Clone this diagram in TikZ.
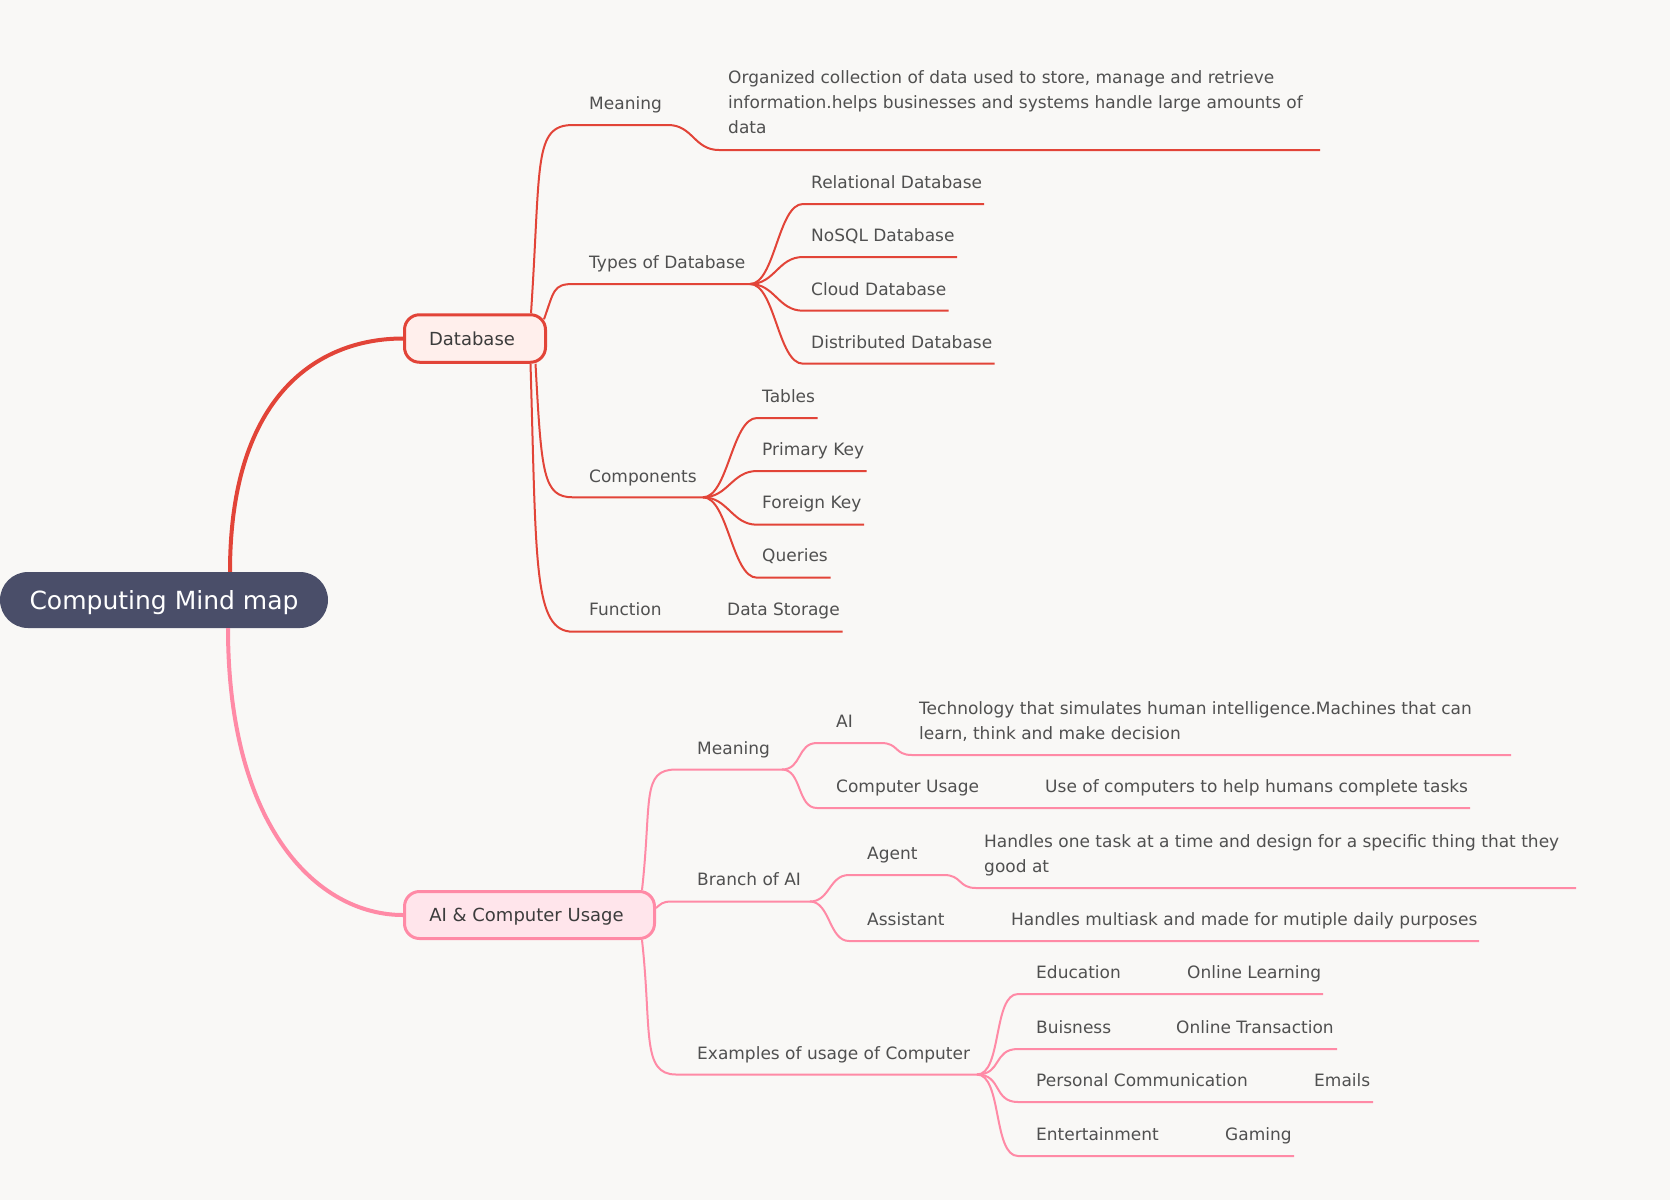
\documentclass[tikz,border=0pt]{standalone}
\usepackage{fontspec}
\setmainfont{DejaVu Sans}
\usepackage{xcolor}

\definecolor{bgc}{RGB}{249,248,246}
\definecolor{rootc}{RGB}{74,78,105}
\definecolor{dbred}{RGB}{226,68,56}
\definecolor{dbfill}{RGB}{255,239,236}
\definecolor{aipink}{RGB}{255,138,166}
\definecolor{aifill}{RGB}{255,229,235}
\definecolor{txt}{RGB}{80,80,80}
\definecolor{boxtxt}{RGB}{60,60,60}

\begin{document}
\begin{tikzpicture}[x=1pt,y=-1pt,
		every node/.style={inner sep=0pt,text=txt,font=\fontsize{17}{25}\selectfont},
		lbl/.style={anchor=base west,align=left},
		dbline/.style={draw=dbred,line width=2pt},
		ailine/.style={draw=aipink,line width=2pt}]
	% Background
	\fill[bgc] (0,0) rectangle (1670,1200);
	\useasboundingbox (0,0) rectangle (1670,1200);

	% Central topic and main topics
	\node[fill=rootc,rounded corners=28pt,minimum width=328pt,minimum height=56pt,text depth=0pt,
		text=white,font=\fontsize{25}{30}\selectfont] (root) at (164,600) {Computing Mind map};
	\node[draw=dbred,line width=3pt,fill=dbfill,rounded corners=15pt,minimum width=141pt,
		minimum height=47.5pt,text=boxtxt,font=\fontsize{18}{22}\selectfont] (db) at (475,338.5) {Database\kern6pt};
	\node[draw=aipink,line width=3pt,fill=aifill,rounded corners=15pt,minimum width=250pt,text depth=0pt,
		minimum height=47pt,text=boxtxt,font=\fontsize{18}{22}\selectfont] (ai) at (529.5,915) {AI \& Computer Usage\kern6pt};

	\draw[dbred,line width=4pt] ([xshift=66pt]root.north) .. controls +(0,-180) and +(-82,0) .. (db.west);
	\draw[aipink,line width=4pt] ([xshift=64pt]root.south) .. controls +(0,200) and +(-85,0) .. (ai.west);

	% Database: Meaning
	\node[lbl] (dbMean) at (589,109.5) {Meaning};
	\node[lbl] (dbMeanTxt) at (728,133.5) {Organized collection of data used to store, manage and retrieve\\information.helps businesses and systems handle large amounts of\\data};
	\coordinate (dbMeanA) at (573,125);
	\coordinate (dbMeanB) at (668,125);
	\coordinate (dbMeanC) at (719,150);
	\coordinate (dbMeanD) at (1320,150);
	\draw[dbline] ([xshift=-16pt]db.north east) .. controls +(10,-150) and +(-40,0) .. (dbMeanA) -- (dbMeanB)
		.. controls +(25,0) and +(-25,0) .. (dbMeanC) -- (dbMeanD);

	% Database: Types of Database
	\node[lbl] (dbTypes) at (589,268.5) {Types of Database};
	\coordinate (dbTypesA) at (573,284);
	\coordinate (dbTypesF) at (750,284);
	\draw[dbline] ([xshift=-3pt,yshift=-6pt]db.north east) .. controls +(10,-28) and +(-20,0) .. (dbTypesA) -- (dbTypesF);
	\node[lbl] (dbRel) at (811,188.5) {Relational Database};
	\node[lbl] (dbNosql) at (811,241.5) {NoSQL Database};
	\node[lbl] (dbCloud) at (811,295) {Cloud Database};
	\node[lbl] (dbDist) at (811,348) {Distributed Database};
	\draw[dbline] (dbTypesF) .. controls +(25,0) and +(-25,0) .. (803,204) -- (984,204);
	\draw[dbline] (dbTypesF) .. controls +(25,0) and +(-25,0) .. (803,257) -- (957,257);
	\draw[dbline] (dbTypesF) .. controls +(25,0) and +(-25,0) .. (803,310.7) -- (948.6,310.7);
	\draw[dbline] (dbTypesF) .. controls +(25,0) and +(-25,0) .. (803,363.7) -- (994.5,363.7);

	% Database: Components
	\node[lbl] (dbComp) at (589,482) {Components};
	\coordinate (dbCompA) at (573,497.3);
	\coordinate (dbCompF) at (703,497.3);
	\draw[dbline] ([xshift=-11.5pt]db.south east) .. controls +(6,110) and +(-30,0) .. (dbCompA) -- (dbCompF);
	\node[lbl] (dbTab) at (762,402) {Tables};
	\node[lbl] (dbPk) at (762,455) {Primary Key};
	\node[lbl] (dbFk) at (762,508.7) {Foreign Key};
	\node[lbl] (dbQry) at (762,561.7) {Queries};
	\draw[dbline] (dbCompF) .. controls +(25,0) and +(-25,0) .. (757,418) -- (817.7,418);
	\draw[dbline] (dbCompF) .. controls +(25,0) and +(-25,0) .. (757,471) -- (866.7,471);
	\draw[dbline] (dbCompF) .. controls +(25,0) and +(-25,0) .. (757,524.7) -- (864,524.7);
	\draw[dbline] (dbCompF) .. controls +(25,0) and +(-25,0) .. (757,577.7) -- (830.7,577.7);

	% Database: Function
	\node[lbl] (dbFunc) at (589,615.7) {Function};
	\node[lbl] (dbStore) at (727,615.7) {Data Storage};
	\coordinate (dbFuncA) at (573,631.7);
	\coordinate (dbFuncB) at (715,631.7);
	\coordinate (dbStoreB) at (842.7,631.7);
	\draw[dbline] ([xshift=-16.5pt]db.south east) .. controls +(6,200) and +(-40,0) .. (dbFuncA) -- (dbFuncB) -- (dbStoreB);

	% AI: Meaning
	\node[lbl] (aiMean) at (697,754) {Meaning};
	\coordinate (aiMeanA) at (676,769.5);
	\coordinate (aiMeanF) at (782,769.5);
	\draw[ailine] ([xshift=-14pt]ai.north east) .. controls +(10,-90) and +(-35,0) .. (aiMeanA) -- (aiMeanF);
	\node[lbl] (aiAi) at (836,727.5) {AI};
	\node[lbl] (aiAiTxt) at (919,739) {Technology that simulates human intelligence.Machines that can\\learn, think and make decision};
	\draw[ailine] (aiMeanF) .. controls +(20,0) and +(-20,0) .. (817,743) -- (881,743)
		.. controls +(18,0) and +(-18,0) .. (912,755) -- (1511,755);
	\node[lbl] (aiUse) at (836,792.5) {Computer Usage};
	\node[lbl] (aiUseTxt) at (1045,792.5) {Use of computers to help humans complete tasks};
	\draw[ailine] (aiMeanF) .. controls +(20,0) and +(-20,0) .. (817,808) -- (1470,808);

	% AI: Branch of AI
	\node[lbl] (aiBranch) at (697,885.5) {Branch of AI};
	\coordinate (aiBranchA) at (672,901.5);
	\coordinate (aiBranchF) at (810,901.5);
	\draw[ailine] ([yshift=7pt]ai.east) .. controls +(5,-4) and +(-10,0) .. (aiBranchA) -- (aiBranchF);
	\node[lbl] (aiAgent) at (867,859.5) {Agent};
	\node[lbl] (aiAgentTxt) at (984,872) {Handles one task at a time and design for a specific thing that they\\good at};
	\draw[ailine] (aiBranchF) .. controls +(20,0) and +(-20,0) .. (849,875) -- (944,875)
		.. controls +(18,0) and +(-18,0) .. (976,888) -- (1576,888);
	\node[lbl] (aiAssist) at (867,925.5) {Assistant};
	\node[lbl] (aiAssistTxt) at (1011,925.5) {Handles multiask and made for mutiple daily purposes};
	\draw[ailine] (aiBranchF) .. controls +(20,0) and +(-20,0) .. (849,941) -- (1479,941);

	% AI: Examples of usage of Computer
	\node[lbl] (aiEx) at (697,1059) {Examples of usage of Computer};
	\coordinate (aiExA) at (676,1074.5);
	\coordinate (aiExF) at (977,1074.5);
	\draw[ailine] ([xshift=-14pt]ai.south east) .. controls +(10,90) and +(-35,0) .. (aiExA) -- (aiExF);
	\node[lbl] (aiEdu) at (1036,978.5) {Education};
	\node[lbl] (aiEduTxt) at (1187,978.5) {Online Learning};
	\node[lbl] (aiBiz) at (1036,1033) {Buisness};
	\node[lbl] (aiBizTxt) at (1176,1033) {Online Transaction};
	\node[lbl] (aiCom) at (1036,1086.5) {Personal Communication};
	\node[lbl] (aiComTxt) at (1314,1086.5) {Emails};
	\node[lbl] (aiEnt) at (1036,1140) {Entertainment};
	\node[lbl] (aiEntTxt) at (1225,1140) {Gaming};
	\draw[ailine] (aiExF) .. controls +(25,0) and +(-25,0) .. (1018,994) -- (1323,994);
	\draw[ailine] (aiExF) .. controls +(25,0) and +(-25,0) .. (1018,1049) -- (1337,1049);
	\draw[ailine] (aiExF) .. controls +(25,0) and +(-25,0) .. (1018,1102) -- (1373,1102);
	\draw[ailine] (aiExF) .. controls +(25,0) and +(-25,0) .. (1018,1156) -- (1294,1156);
\end{tikzpicture}
\end{document}
